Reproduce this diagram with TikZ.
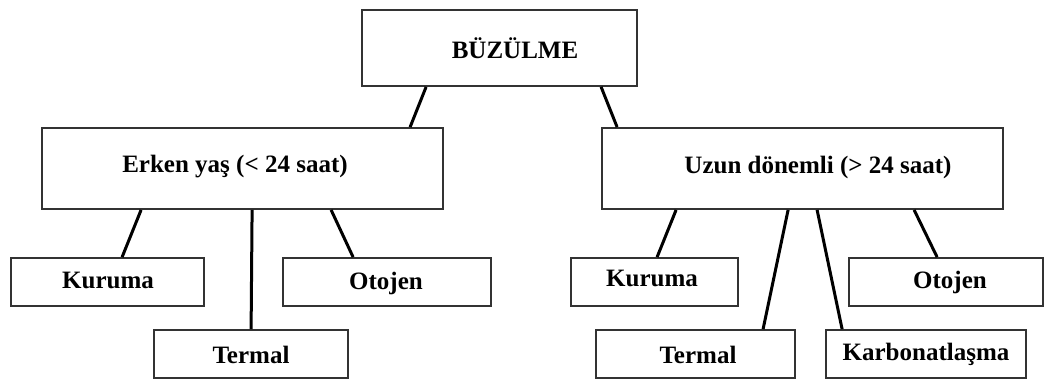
\documentclass[tikz,border=0pt]{standalone}
\usepackage{fontspec}
\setmainfont{Liberation Serif}
\begin{document}
\begin{tikzpicture}[x=1pt,y=-1pt,
  box/.style={draw=black!80,line width=1.8pt,rectangle,inner sep=0pt},
  lbl/.style={font=\fontsize{25}{30}\selectfont\bfseries,inner sep=0pt,anchor=center},
  conn/.style={black,line width=3pt}]
\useasboundingbox (0,0) rectangle (1045,380);
% boxes
\node[box,minimum width=275pt,minimum height=76pt] (top) at (499.5,48) {};
\node[box,minimum width=401pt,minimum height=81pt] (erken) at (242.5,168.5) {};
\node[box,minimum width=401pt,minimum height=81pt] (uzun) at (802.5,168.5) {};
\node[box,minimum width=193pt,minimum height=48pt] (kur1) at (107.5,282) {};
\node[box,minimum width=208pt,minimum height=48pt] (oto1) at (387,282) {};
\node[box,minimum width=194pt,minimum height=48pt] (ter1) at (251,354) {};
\node[box,minimum width=167pt,minimum height=48pt] (kur2) at (654.5,282) {};
\node[box,minimum width=194pt,minimum height=48pt] (oto2) at (946,282) {};
\node[box,minimum width=199pt,minimum height=48pt] (ter2) at (695.5,354) {};
\node[box,minimum width=200pt,minimum height=48pt] (kar) at (926,354) {};
% texts
\node[lbl] (ttop) at (515,48.5) {BÜZÜLME};
\node[lbl] (terken) at (235,167) {Erken yaş (< 24 saat)};
\node[lbl] (tuzun) at (818,167) {Uzun dönemli (> 24 saat)};
\node[lbl] (tkur1) at (108,280) {Kuruma};
\node[lbl] (toto1) at (386,283) {Otojen};
\node[lbl] (tter1) at (251,355) {Termal};
\node[lbl] (tkur2) at (652,278) {Kuruma};
\node[lbl] (toto2) at (950,282) {Otojen};
\node[lbl] (tter2) at (698,355) {Termal};
\node[lbl] (tkar) at (926,354) {Karbonatlaşma};
% connectors
\draw[conn] ([xshift=65]top.south west) -- ([xshift=369]erken.north west);
\draw[conn] ([xshift=240]top.south west) -- ([xshift=16]uzun.north west);
\draw[conn] ([xshift=100]erken.south west) -- ([xshift=112]kur1.north west);
\draw[conn] ([xshift=211]erken.south west) -- ([xshift=98]ter1.north west);
\draw[conn] ([xshift=290]erken.south west) -- ([xshift=71]oto1.north west);
\draw[conn] ([xshift=75]uzun.south west) -- ([xshift=87]kur2.north west);
\draw[conn] ([xshift=187]uzun.south west) -- ([xshift=168]ter2.north west);
\draw[conn] ([xshift=216]uzun.south west) -- ([xshift=17]kar.north west);
\draw[conn] ([xshift=313]uzun.south west) -- ([xshift=89]oto2.north west);
\end{tikzpicture}
\end{document}
